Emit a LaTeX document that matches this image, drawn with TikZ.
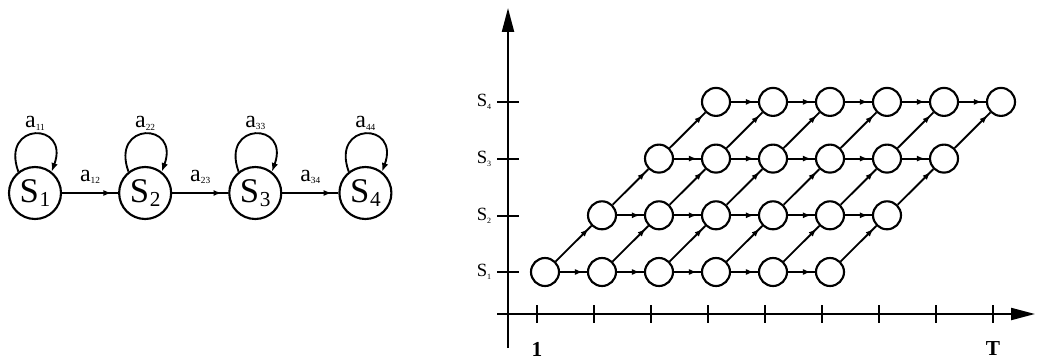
\documentclass[tikz,border=0pt]{standalone}
\usepackage{fontspec}
\setmainfont{Liberation Serif}
\usepackage{tikz}
\usetikzlibrary{arrows.meta,positioning,decorations.markings}
\newcommand{\est}[1]{{\fontsize{26}{26}\selectfont S\kern0.5pt\raisebox{-0.12em}{\fontsize{16}{16}\selectfont #1}}}
\newcommand{\trans}[1]{{\fontsize{18}{18}\selectfont a\raisebox{-0.1em}{\fontsize{7}{7}\selectfont #1}}}
\newcommand{\eixo}[1]{{\fontsize{14}{14}\selectfont S\raisebox{-0.15em}{\fontsize{6}{6}\selectfont #1}}}

\begin{document}
\begin{tikzpicture}[x=0.75pt, y=-0.75pt, node distance=42pt, estado/.style={draw, circle, line width=1.6pt, minimum size=39pt, inner sep=0pt}, ponto/.style={draw, circle, line width=1.6pt, minimum size=21pt, inner sep=0pt}, seta/.style={line width=1.4pt, postaction={decorate}, decoration={markings, mark=at position -#1 with {\arrow{Latex[length=6pt,width=4.5pt]}}}}, seta/.default=3pt]
\useasboundingbox (0,0) rectangle (1037,360);
% cadeia de estados
\node[estado] (s1) at (35,193) {\est{1}};
\node[estado, right=of s1] (s2) {\est{2}};
\node[estado, right=of s2] (s3) {\est{3}};
\node[estado, right=of s3] (s4) {\est{4}};
\foreach \i in {1,...,4}
  \draw[line width=1.4pt, -{Latex[length=6.5pt,width=5pt]}] (s\i.128) .. controls +(110:40pt) and +(70:40pt) .. (s\i.52) node[midway, above=-1pt] (l\i) {\trans{\i\i}};
\draw[seta=5pt] (s1) -- node[above=3pt] (l12) {\trans{12}} (s2);
\draw[seta=5pt] (s2) -- node[above=3pt] (l23) {\trans{23}} (s3);
\draw[seta=5pt] (s3) -- node[above=3pt] (l34) {\trans{34}} (s4);
% eixos
\draw[line width=1.6pt, -{Triangle[length=18pt,width=9pt]}] (508,348) -- (508,8);
\draw[line width=1.6pt, -{Triangle[length=18pt,width=9pt]}] (497,314) -- (1035,314);
\foreach \k in {0,...,8} \draw[line width=1.4pt] ({537+57*\k},305) -- ({537+57*\k},323);
\foreach \s/\y in {1/272,2/216,3/159,4/102} {
  \draw[line width=1.4pt] (497,\y) -- (519,\y);
  \node (y\s) at (484,\y) {\eixo{\s}};
}
\node (um) at (537,349) {\fontsize{16}{16}\selectfont\bfseries 1};
\node (tt) at (993,349) {\fontsize{16}{16}\selectfont\bfseries T};
% trelica
\foreach \s in {1,...,4} {
  \pgfmathtruncatemacro\a{\s-1}
  \pgfmathtruncatemacro\b{\s+4}
  \foreach \t in {\a,...,\b}
    \node[ponto] (n\t\s) at ({545+57*\t},{272-56.7*(\s-1)}) {};
}
\foreach \s in {1,...,4} {
  \pgfmathtruncatemacro\a{\s-1}
  \pgfmathtruncatemacro\b{\s+3}
  \foreach \t in {\a,...,\b} {
    \pgfmathtruncatemacro\u{\t+1}
    \draw[seta] (n\t\s) -- (n\u\s);
  }
}
\foreach \s in {1,2,3} {
  \pgfmathtruncatemacro\a{\s-1}
  \pgfmathtruncatemacro\b{\s+4}
  \pgfmathtruncatemacro\r{\s+1}
  \foreach \t in {\a,...,\b} {
    \pgfmathtruncatemacro\u{\t+1}
    \draw[seta] (n\t\s) -- (n\u\r);
  }
}
\end{tikzpicture}
\end{document}
